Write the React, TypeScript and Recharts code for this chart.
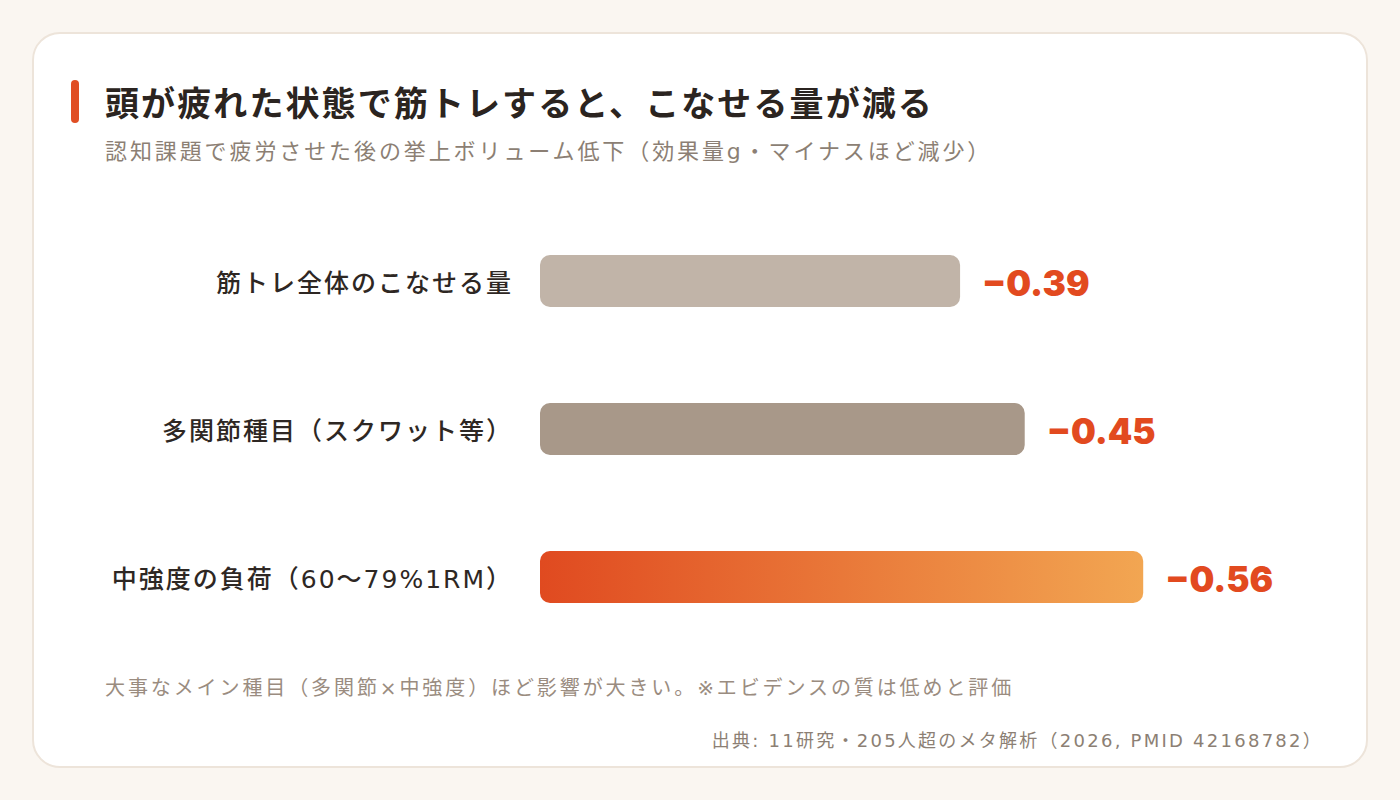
import React from 'react';
import { BarChart, Bar, XAxis, YAxis, Cell, LabelList } from 'recharts';

const categories = [
  '筋トレ全体のこなせる量',
  '多関節種目（スクワット等）',
  '中強度の負荷（60〜79%1RM）',
];
const effectSizes = [-0.39, -0.45, -0.56];
const xDomain = [0, 0.7];

const titleText = '頭が疲れた状態で筋トレすると、こなせる量が減る';
const subtitleText = '認知課題で疲労させた後の挙上ボリューム低下（効果量g・マイナスほど減少）';
const noteText = '大事なメイン種目（多関節×中強度）ほど影響が大きい。※エビデンスの質は低めと評価';
const sourceText = '出典: 11研究・205人超のメタ解析（2026, PMID 42168782）';

const barFills = ['#c1b4a8', '#a89889', 'url(#hotGrad)'];

const data = categories.map((name, i) => ({
  name,
  g: effectSizes[i],
  magnitude: Math.abs(effectSizes[i]),
}));

const JP = '"Noto Sans CJK JP", "Noto Sans", sans-serif';
const MIX = '"DejaVu Sans", "Noto Sans CJK JP", sans-serif';

const fmt = (g: number) => `${g < 0 ? '\u2212' : ''}${Math.abs(g).toFixed(2)}`;

const CategoryTick = (props: any) => {
  const { x, y, payload } = props;
  return (
    <text
      x={x}
      y={y + 2}
      textAnchor="end"
      dominantBaseline="central"
      fontFamily={MIX}
      fontSize={25}
      fontWeight={500}
      letterSpacing={2}
      fill="#2e2723"
    >
      {payload.value}
    </text>
  );
};

const ValueLabel = (props: any) => {
  const { x, y, width, height, index } = props;
  const g = data[index].g;
  return (
    <text
      x={x + width + 22}
      y={y + height / 2 + 2}
      dominantBaseline="central"
      fontFamily="Inter, sans-serif"
      fontSize={35}
      fontWeight={900}
      fill="#e24a1f"
    >
      {fmt(g)}
    </text>
  );
};

export default function App() {
  return (
    <div style={{ position: 'absolute', left: 0, top: 0, width: 1400, height: 800, background: '#faf6f1', overflow: 'hidden' }}>
      <svg width={0} height={0} style={{ position: 'absolute' }}>
        <defs>
          <linearGradient id="hotGrad" x1="0" y1="0" x2="1" y2="0">
            <stop offset="0%" stopColor="#e04a20" />
            <stop offset="100%" stopColor="#f2a652" />
          </linearGradient>
        </defs>
      </svg>
      <div
        style={{
          position: 'absolute',
          left: 32,
          top: 32,
          width: 1336,
          height: 736,
          boxSizing: 'border-box',
          background: '#ffffff',
          border: '2px solid #ede4da',
          borderRadius: 28,
        }}
      />
      <div style={{ position: 'absolute', left: 71, top: 80, width: 8, height: 43, borderRadius: 4, background: '#e04e24' }} />
      <div
        style={{
          position: 'absolute',
          left: 105,
          top: 84,
          fontFamily: JP,
          fontSize: 34,
          fontWeight: 700,
          letterSpacing: 2.1,
          lineHeight: '36px',
          color: '#2b2420',
          whiteSpace: 'nowrap',
        }}
      >
        {titleText}
      </div>
      <div
        style={{
          position: 'absolute',
          left: 105,
          top: 139,
          fontFamily: MIX,
          fontSize: 22,
          fontWeight: 400,
          letterSpacing: 2.9,
          lineHeight: '26px',
          color: '#8c7f74',
          whiteSpace: 'nowrap',
        }}
      >
        {subtitleText}
      </div>
      <div style={{ position: 'absolute', left: 0, top: 0 }}>
        <BarChart
          width={1400}
          height={800}
          layout="vertical"
          data={data}
          margin={{ top: 207, right: 106, bottom: 149, left: 0 }}
        >
          <XAxis type="number" domain={xDomain} hide />
          <YAxis
            type="category"
            dataKey="name"
            width={540}
            axisLine={false}
            tickLine={false}
            tickSize={0}
            tickMargin={27}
            tick={<CategoryTick />}
            interval={0}
          />
          <Bar dataKey="magnitude" barSize={52} radius={10} isAnimationActive={false}>
            {data.map((d, i) => (
              <Cell key={d.name} fill={barFills[i]} />
            ))}
            <LabelList dataKey="g" content={<ValueLabel />} />
          </Bar>
        </BarChart>
      </div>
      <div
        style={{
          position: 'absolute',
          left: 105,
          top: 676,
          fontFamily: MIX,
          fontSize: 20,
          fontWeight: 400,
          letterSpacing: 2.9,
          lineHeight: '24px',
          color: '#9a8c80',
          whiteSpace: 'nowrap',
        }}
      >
        {noteText}
      </div>
      <div
        style={{
          position: 'absolute',
          right: 1400 - 1323,
          top: 730,
          fontFamily: MIX,
          fontSize: 18,
          fontWeight: 400,
          letterSpacing: 2.25,
          lineHeight: '22px',
          color: '#8c7f74',
          whiteSpace: 'nowrap',
          textAlign: 'right',
        }}
      >
        {sourceText}
      </div>
    </div>
  );
}
